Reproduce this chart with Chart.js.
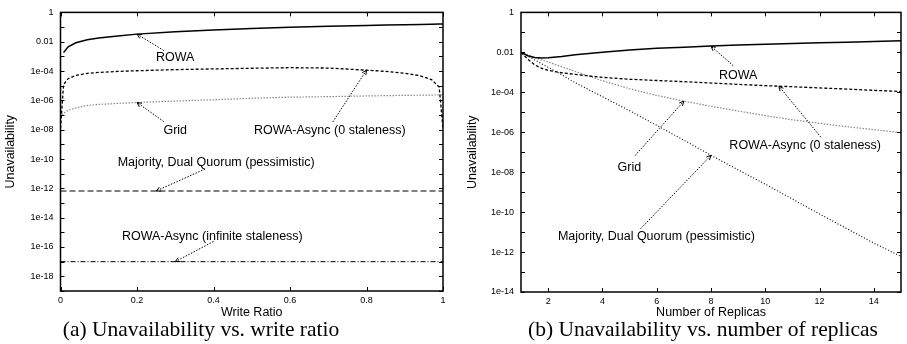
<!DOCTYPE html>
<html>
<head>
<meta charset="utf-8">
<script src="https://cdn.jsdelivr.net/npm/chart.js@4"></script>
<style>
  body { margin: 0; background: #fff; width: 907px; height: 344px; position: relative; overflow: hidden; }
  canvas { position: absolute; top: 0; }
  #chartA { left: 0; }
  #chartB { left: 453px; }
  .cap { position: absolute; top: 317px; font: 21.5px "Liberation Serif"; line-height: 24px; white-space: nowrap; transform: translateX(-50%); color: #000; }
</style>
</head>
<body>
<canvas id="chartA" width="453" height="320"></canvas>
<canvas id="chartB" width="454" height="320"></canvas>
<div class="cap" style="left:201px">(a) Unavailability vs. write ratio</div>
<div class="cap" style="left:703px">(b) Unavailability vs. number of replicas</div>
<script>
// (a) unavailability vs. write ratio
const writeRatio = [0, 0.008, 0.02, 0.04, 0.07, 0.1, 0.15, 0.2, 0.3, 0.4, 0.5, 0.6, 0.7, 0.8, 0.85, 0.9, 0.94, 0.97, 0.99, 1];
const rowaA = [null, 1.8e-3, 4.5e-3, 8.5e-3, 0.0135, 0.018, 0.025, 0.033, 0.048, 0.064, 0.08, 0.097, 0.113, 0.129, 0.137, 0.145, 0.151, 0.156, 0.159, 0.161];
const rowaAsyncA = [1.2e-8, 1.2e-5, 3e-5, 5e-5, 7e-5, 8e-5, 9.5e-5, 1.05e-4, 1.25e-4, 1.4e-4, 1.55e-4, 1.7e-4, 1.6e-4, 1.15e-4, 9.5e-5, 7e-5, 4.8e-5, 2.6e-5, 8e-6, 1.2e-8];
const gridA = [6.5e-8, 1.3e-7, 2.1e-7, 3.1e-7, 4.5e-7, 5.3e-7, 6.2e-7, 7.2e-7, 9e-7, 1.1e-6, 1.4e-6, 1.65e-6, 1.8e-6, 2e-6, 2.1e-6, 2.2e-6, 2.25e-6, 2.3e-6, 2.35e-6, 2.4e-6];
const flatRatio = [0, 1];
const majorityA = [6.6e-13, 6.6e-13];
const asyncInfA = [1e-17, 1e-17];

// (b) unavailability vs. number of replicas
const replicas = [1, 1.25, 1.5, 1.75, 2, 2.5, 3, 4, 5, 6, 7, 8, 9, 10, 11, 12, 13, 14, 15];
const rowaB = [0.01, 0.0068, 0.0055, 0.0052, 0.0054, 0.0062, 0.0075, 0.0102, 0.0132, 0.016, 0.018, 0.0205, 0.023, 0.0255, 0.028, 0.030, 0.032, 0.035, 0.038];
const rowaAsyncB = [0.01, 4.5e-3, 2.4e-3, 1.6e-3, 1.25e-3, 9.5e-4, 7.8e-4, 5.6e-4, 4.5e-4, 3.9e-4, 3.4e-4, 2.9e-4, 2.5e-4, 2.15e-4, 1.9e-4, 1.65e-4, 1.45e-4, 1.25e-4, 1.1e-4];
const gridB = [0.01, 7.5e-3, 5.6e-3, 4.2e-3, 3.3e-3, 1.9e-3, 1.1e-3, 3.8e-4, 1.5e-4, 7e-5, 3.6e-5, 2e-5, 1.15e-5, 6.8e-6, 4.2e-6, 2.8e-6, 1.9e-6, 1.35e-6, 9.5e-7];
const majorityB = [0.01, 6.5e-3, 4.2e-3, 2.7e-3, 1.8e-3, 7.5e-4, 3e-4, 6e-5, 1.2e-5, 2.2e-6, 4e-7, 7e-8, 1.3e-8, 2.5e-9, 4.5e-10, 8e-11, 1.5e-11, 2.8e-12, 6e-13];

// tick labels
const ratioTicks = [0, 0.2, 0.4, 0.6, 0.8, 1];
const replicaTicks = [2, 4, 6, 8, 10, 12, 14];
const yLabelsA = ['1', '0.01', '1e-04', '1e-06', '1e-08', '1e-10', '1e-12', '1e-14', '1e-16', '1e-18'];
const yLabelsB = ['1', '0.01', '1e-04', '1e-06', '1e-08', '1e-10', '1e-12', '1e-14'];

const SANS = '"Liberation Sans", Arial, sans-serif';
const tickFont = { family: SANS, size: 9 };
const titleFont = { family: SANS, size: 12.5 };

function pts(xs, ys) {
  return xs.map((x, i) => ({ x: x, y: ys[i] })).filter((p) => p.y != null);
}

function decadeTicks(scale) {
  const ticks = [];
  for (let e = 0; e >= Math.round(Math.log10(scale.min)); e--) ticks.push({ value: Math.pow(10, e) });
  scale.ticks = ticks;
}

function labelFrom(list) {
  const byExp = {};
  list.forEach((s) => { byExp[Math.round(Math.log10(Number(s)))] = s; });
  return (v) => byExp[Math.round(Math.log10(v))] || '';
}

// y pixel on a drawn line at a given x value
function lineY(chart, ds, xv) {
  const pts = chart.getDatasetMeta(ds).data;
  const px = chart.scales.x.getPixelForValue(xv);
  for (let i = 1; i < pts.length; i++) {
    const a = pts[i - 1], b = pts[i];
    if (px >= a.x && px <= b.x) {
      const t = b.x === a.x ? 0 : (px - a.x) / (b.x - a.x);
      return a.y + t * (b.y - a.y);
    }
  }
  return pts[pts.length - 1].y;
}

const dec = (e) => Math.pow(10, -e);

// border, inward mirrored ticks, labels with dotted arrows
const decorations = {
  id: 'decorations',
  afterDatasetsDraw(chart, args, opts) {
    const { ctx, chartArea: a, scales: { x, y } } = chart;
    ctx.save();
    ctx.strokeStyle = '#000';
    ctx.lineWidth = 1;
    ctx.beginPath();
    x.ticks.forEach((t) => {
      const px = Math.round(x.getPixelForValue(t.value)) + 0.5;
      ctx.moveTo(px, a.bottom); ctx.lineTo(px, a.bottom - 4);
      ctx.moveTo(px, a.top); ctx.lineTo(px, a.top + 4);
    });
    y.ticks.forEach((t) => {
      const py = Math.round(y.getPixelForValue(t.value)) + 0.5;
      ctx.moveTo(a.left, py); ctx.lineTo(a.left + 4, py);
      ctx.moveTo(a.right, py); ctx.lineTo(a.right - 4, py);
    });
    ctx.stroke();
    ctx.lineWidth = 1.5;
    ctx.strokeRect(a.left, a.top, a.right - a.left, a.bottom - a.top);

    ctx.font = '12.5px ' + SANS;
    ctx.fillStyle = '#000';
    ctx.textAlign = 'center';
    ctx.textBaseline = 'middle';
    (opts.notes || []).forEach((n) => {
      ctx.fillText(n.text, x.getPixelForValue(n.at[0]), y.getPixelForValue(n.at[1]));
      const x0 = x.getPixelForValue(n.from[0]), y0 = y.getPixelForValue(n.from[1]);
      const x1 = x.getPixelForValue(n.tx), y1 = lineY(chart, n.ds, n.tx);
      ctx.lineWidth = 1;
      ctx.setLineDash([1.5, 1.5]);
      ctx.beginPath(); ctx.moveTo(x0, y0); ctx.lineTo(x1, y1); ctx.stroke();
      ctx.setLineDash([]);
      const ang = Math.atan2(y1 - y0, x1 - x0);
      ctx.beginPath();
      ctx.moveTo(x1 - 5 * Math.cos(ang - 0.45), y1 - 5 * Math.sin(ang - 0.45));
      ctx.lineTo(x1, y1);
      ctx.lineTo(x1 - 5 * Math.cos(ang + 0.45), y1 - 5 * Math.sin(ang + 0.45));
      ctx.stroke();
    });
    ctx.restore();
  }
};

function line(data, color, width, dash) {
  return { data: data, borderColor: color, borderWidth: width, borderDash: dash, pointRadius: 0, tension: 0, fill: false };
}

function makeChart(id, cfg) {
  return new Chart(document.getElementById(id), {
    type: 'line',
    data: { datasets: cfg.datasets },
    options: {
      responsive: false,
      animation: false,
      devicePixelRatio: 1,
      layout: { padding: cfg.padding },
      plugins: { legend: { display: false }, tooltip: { enabled: false }, decorations: { notes: cfg.notes } },
      scales: {
        x: {
          type: 'linear', min: cfg.xMin, max: cfg.xMax,
          afterBuildTicks: (s) => { s.ticks = cfg.xTicks.map((v) => ({ value: v })); },
          afterFit: (s) => { s.height = cfg.xHeight; },
          grid: { display: false, drawTicks: false },
          border: { display: false },
          ticks: { autoSkip: false, maxRotation: 0, padding: 4, color: '#000', font: tickFont, callback: (v) => String(v) },
          title: { display: true, text: cfg.xTitle, color: '#000', font: titleFont, padding: 0 }
        },
        y: {
          type: 'logarithmic', min: cfg.yMin, max: 1,
          afterBuildTicks: decadeTicks,
          afterFit: (s) => { s.width = cfg.yWidth; },
          grid: { display: false, drawTicks: false },
          border: { display: false },
          ticks: { autoSkip: false, padding: 7, color: '#000', font: tickFont, callback: labelFrom(cfg.yLabels) },
          title: { display: true, text: 'Unavailability', color: '#000', font: titleFont, padding: { top: cfg.yTitlePad, bottom: 0 } }
        }
      }
    },
    plugins: [decorations]
  });
}

makeChart('chartA', {
  padding: { top: 12, right: 10, bottom: 0, left: 0 },
  xMin: 0, xMax: 1, xTicks: ratioTicks, xHeight: 29, xTitle: 'Write Ratio',
  yMin: 1e-19, yWidth: 60.5, yLabels: yLabelsA, yTitlePad: 3,
  datasets: [
    line(pts(writeRatio, rowaA), '#000', 1.5, []),
    line(pts(writeRatio, rowaAsyncA), '#000', 1.3, [3, 2]),
    line(pts(writeRatio, gridA), '#888', 1.2, [1.5, 1.5]),
    line(pts(flatRatio, majorityA), '#000', 1.2, [6, 3]),
    line(pts(flatRatio, asyncInfA), '#000', 1, [5, 2, 1, 2])
  ],
  notes: [
    { text: 'ROWA', at: [0.30, dec(3.06)], from: [0.27, dec(2.6)], ds: 0, tx: 0.2 },
    { text: 'Grid', at: [0.30, dec(8.04)], from: [0.27, dec(7.45)], ds: 2, tx: 0.2 },
    { text: 'ROWA-Async (0 staleness)', at: [0.704, dec(8.04)], from: [0.712, dec(7.47)], ds: 1, tx: 0.8 },
    { text: 'Majority, Dual Quorum (pessimistic)', at: [0.407, dec(10.24)], from: [0.378, dec(10.68)], ds: 3, tx: 0.25 },
    { text: 'ROWA-Async (infinite staleness)', at: [0.397, dec(15.28)], from: [0.40, dec(15.62)], ds: 4, tx: 0.3 }
  ]
});

makeChart('chartB', {
  padding: { top: 12, right: 6, bottom: 0, left: 0 },
  xMin: 1, xMax: 15, xTicks: replicaTicks, xHeight: 28, xTitle: 'Number of Replicas',
  yMin: 1e-14, yWidth: 68, yLabels: yLabelsB, yTitlePad: 12.5,
  datasets: [
    line(pts(replicas, rowaB), '#000', 1.5, []),
    line(pts(replicas, rowaAsyncB), '#000', 1.3, [3, 2]),
    line(pts(replicas, gridB), '#888', 1.2, [1.5, 1.5]),
    line(pts(replicas, majorityB), '#000', 1.1, [1, 2])
  ],
  notes: [
    { text: 'ROWA', at: [9.0, dec(3.17)], from: [8.82, dec(2.67)], ds: 0, tx: 8 },
    { text: 'ROWA-Async (0 staleness)', at: [11.47, dec(6.67)], from: [12.05, dec(6.25)], ds: 1, tx: 10.5 },
    { text: 'Grid', at: [4.99, dec(7.77)], from: [5.2, dec(7.17)], ds: 2, tx: 7 },
    { text: 'Majority, Dual Quorum (pessimistic)', at: [5.99, dec(11.2)], from: [5.41, dec(10.83)], ds: 3, tx: 8 }
  ]
});
</script>
</body>
</html>
